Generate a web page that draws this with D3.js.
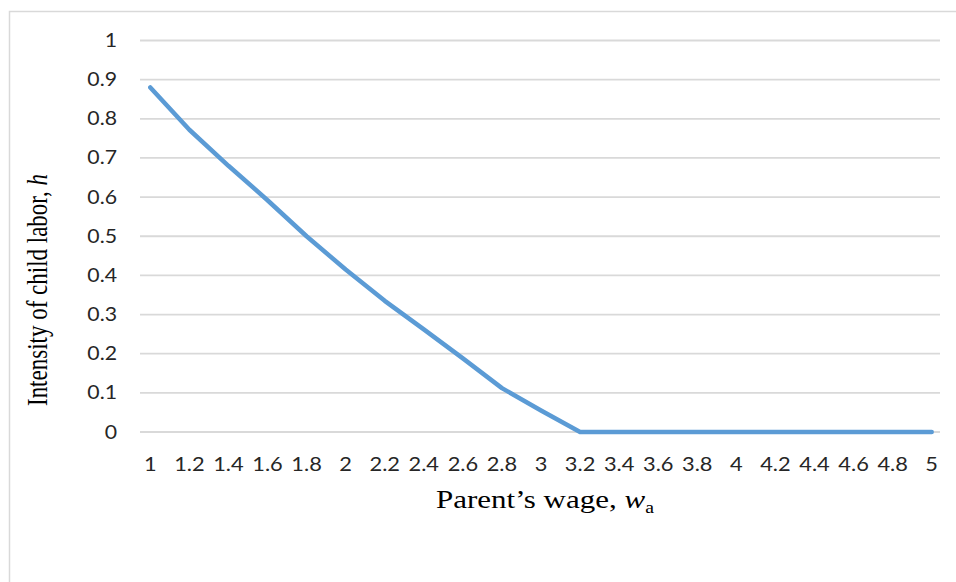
<!DOCTYPE html>
<html>
<head>
<meta charset="utf-8">
<script src="https://cdn.jsdelivr.net/npm/d3@7"></script>
<style>
  body { margin: 0; background: white; }
</style>
</head>
<body>
<script>
// data
var wages = [1, 1.2, 1.4, 1.6, 1.8, 2, 2.2, 2.4, 2.6, 2.8, 3, 3.2, 3.4, 3.6, 3.8, 4, 4.2, 4.4, 4.6, 4.8, 5];
var intensity = [0.88, 0.772, 0.68, 0.592, 0.5, 0.415, 0.335, 0.262, 0.188, 0.112, 0.055, 0, 0, 0, 0, 0, 0, 0, 0, 0, 0];
var yTicks = [0, 0.1, 0.2, 0.3, 0.4, 0.5, 0.6, 0.7, 0.8, 0.9, 1];

var W = 956, H = 582;
var stretch = 1.24;   // the original picture is a bit wider than tall, text looks stretched
var labelStretch = 1.12;
var sansFont = "Lato, 'Open Sans', sans-serif";
var serifFont = "'Liberation Serif', 'Times New Roman', serif";

var svg = d3.select("body")
  .append("svg")
    .attr("width", W)
    .attr("height", H);

// chart area border (runs off the right and bottom of the picture)
svg.append("rect")
  .attr("x", 9.5)
  .attr("y", 11.5)
  .attr("width", 1000)
  .attr("height", 1000)
  .attr("fill", "white")
  .attr("stroke", "#d9d9d9")
  .attr("stroke-width", 1.5);

var plotLeft = 140, plotRight = 940;

var x = d3.scalePoint()
  .domain(wages)
  .range([150.3, 931.7]);

var y = d3.scaleLinear()
  .domain([0, 1])
  .range([432, 40.5]);

// gridlines
svg.append("g")
  .selectAll("line")
  .data(yTicks)
  .enter()
  .append("line")
    .attr("x1", plotLeft)
    .attr("x2", plotRight)
    .attr("y1", function(d) { return y(d); })
    .attr("y2", function(d) { return y(d); })
    .attr("stroke", "#d9d9d9")
    .attr("stroke-width", 1.8);

var fmt = function(d) { return d === 0 ? "0" : d === 1 ? "1" : d3.format(".1f")(d); };

// y axis labels
svg.append("g")
  .selectAll("text")
  .data(yTicks)
  .enter()
  .append("text")
    .attr("transform", function(d) {
      return "translate(117," + (y(d) + 6.5) + ") scale(" + labelStretch + ",1)";
    })
    .attr("text-anchor", "end")
    .style("font-family", sansFont)
    .style("font-size", "19px")
    .attr("fill", "#262626")
    .text(fmt);

// x axis labels
svg.append("g")
  .selectAll("text")
  .data(wages)
  .enter()
  .append("text")
    .attr("transform", function(d) {
      return "translate(" + x(d) + ",471) scale(" + labelStretch + ",1)";
    })
    .attr("text-anchor", "middle")
    .style("font-family", sansFont)
    .style("font-size", "19.5px")
    .attr("fill", "#262626")
    .text(function(d) { return String(d); });

// the line
var line = d3.line()
  .x(function(d, i) { return x(wages[i]); })
  .y(function(d) { return y(d); });

svg.append("path")
  .datum(intensity)
  .attr("d", line)
  .attr("fill", "none")
  .attr("stroke", "#5b9bd5")
  .attr("stroke-width", 4.5)
  .attr("stroke-linecap", "round")
  .attr("stroke-linejoin", "round");

// axis titles
var yTitle = svg.append("text")
  .attr("transform", "translate(47,290) scale(1.3,1) rotate(-90)")
  .attr("text-anchor", "middle")
  .style("font-family", serifFont)
  .style("font-size", "23px")
  .attr("fill", "#000");
yTitle.append("tspan").text("Intensity of child labor, ");
yTitle.append("tspan").style("font-style", "italic").text("h");

var xTitle = svg.append("text")
  .attr("transform", "translate(545,508) scale(" + stretch + ",1)")
  .attr("text-anchor", "middle")
  .style("font-family", serifFont)
  .style("font-size", "25px")
  .attr("fill", "#000");
xTitle.append("tspan").text("Parent\u2019s wage, ");
xTitle.append("tspan").style("font-style", "italic").text("w");
xTitle.append("tspan").attr("dy", 5).style("font-size", "16px").text("a");
</script>
</body>
</html>
